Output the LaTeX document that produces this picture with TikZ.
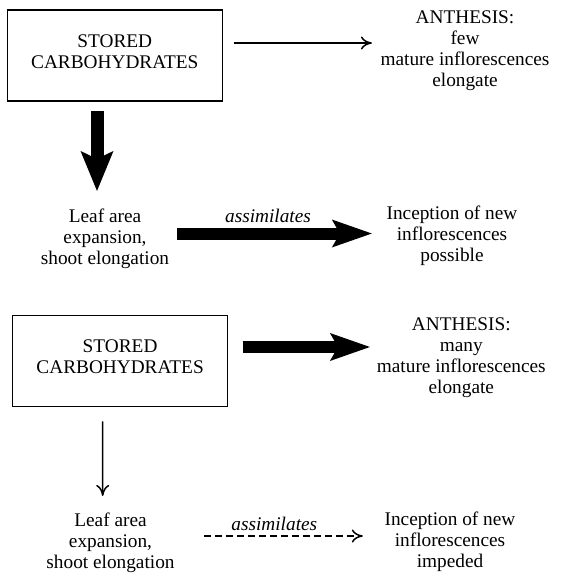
\documentclass[tikz,border=0pt]{standalone}
\usepackage{fontspec}
\setmainfont{Liberation Serif}
\usetikzlibrary{arrows.meta}

\begin{document}
\begin{tikzpicture}[x=1pt,y=-1pt]

\tikzset{box/.style = {shape=rectangle,draw,line width=1.1pt,minimum width=215pt,minimum height=91pt,align=center,text depth=8pt,font=\fontsize{19.3}{21}\selectfont}}
\tikzset{txt/.style = {align=center,inner sep=0pt,font=\fontsize{19.3}{21}\selectfont}}
\tikzset{lbl/.style = {inner sep=0pt,font=\fontsize{19.3}{21}\selectfont\itshape}}
\tikzset{edge/.style = {-{To[length=11pt,width=13pt]},line width=1.5pt}}
\tikzset{fatedge/.style = {-{Stealth[length=40pt,width=28pt,inset=8pt,line width=0pt]},line width=12pt}}
\tikzset{dashedge/.style = {edge,dash pattern=on 7pt off 4pt}}

\useasboundingbox (0,0) rectangle (560,573);

% vertices
\node[box] (store1) at (114.8,55.5) {STORED\\CARBOHYDRATES};
\node[txt] (anth1) at (465,51) {ANTHESIS:\\few\\mature inflorescences\\elongate};
\node[txt] (leaf1) at (105,238.5) {Leaf area\\expansion,\\shoot elongation};
\node[txt] (incep1) at (452,235.3) {Inception of new\\inflorescences\\possible};
\node[lbl] (assim1) at (268,216) {assimilates};

\node[box] (store2) at (120.1,360.8) {STORED\\CARBOHYDRATES};
\node[txt] (anth2) at (461.3,357.8) {ANTHESIS:\\many\\mature inflorescences\\elongate};
\node[txt] (leaf2) at (110.5,542.8) {Leaf area\\expansion,\\shoot elongation};
\node[txt] (incep2) at (450,541.5) {Inception of new\\inflorescences\\impeded};
\node[lbl] (assim2) at (274.3,523.7) {assimilates};

%edges
\draw[edge,shorten <=11pt,shorten >=8.5pt] ([yshift=12.5pt]store1.east) to ([yshift=8pt]anth1.west);
\draw[fatedge,line width=13pt,-{Stealth[length=40pt,width=33pt,inset=8pt,line width=0pt]},shorten <=9pt,shorten >=17.5pt] ([xshift=-17.8pt]store1.south) to ([xshift=-8pt]leaf1.north);
\draw[fatedge,shorten <=8pt,shorten >=14.6pt] ([yshift=5pt]leaf1.east) to ([yshift=1.8pt]incep1.west);

\draw[fatedge,shorten <=14.5pt,shorten >=6.8pt] ([yshift=13.8pt]store2.east) to ([yshift=10.8pt]anth2.west);
\draw[edge,shorten <=14.5pt,shorten >=16.8pt] ([xshift=-17.4pt]store2.south) to ([xshift=-7.8pt]leaf2.north);
\draw[dashedge,shorten <=29.5pt,shorten >=21.6pt] ([yshift=6.8pt]leaf2.east) to ([yshift=5.5pt]incep2.west);

\end{tikzpicture}
\end{document}
